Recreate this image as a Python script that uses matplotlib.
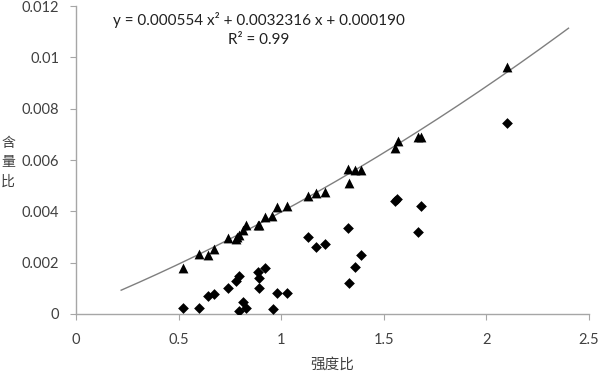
import matplotlib
matplotlib.use('Agg')
import matplotlib.pyplot as plt
import numpy as np

plt.rcParams['font.family'] = ['Lato', 'Noto Sans CJK SC', 'DejaVu Sans']

# 三角形：含量比（上方序列）
tri_x = [0.523, 0.601, 0.645, 0.674, 0.742, 0.778, 0.786, 0.794, 0.815, 0.828,
         0.885, 0.893, 0.921, 0.957, 0.981, 1.027, 1.132, 1.170, 1.213, 1.327,
         1.330, 1.360, 1.387, 1.555, 1.568, 1.668, 1.680, 2.099]
tri_y = [0.00178, 0.00234, 0.00230, 0.00252, 0.00297, 0.00293, 0.00301, 0.00308, 0.00327, 0.00345,
         0.00347, 0.00347, 0.00377, 0.00382, 0.00416, 0.00422, 0.00461, 0.00470, 0.00477, 0.00564,
         0.00512, 0.00561, 0.00561, 0.00648, 0.00675, 0.00688, 0.00688, 0.00963]

# 菱形：下方序列
dia_x = [0.523, 0.601, 0.645, 0.674, 0.742, 0.778, 0.794, 0.794, 0.815, 0.828,
         0.888, 0.893, 0.893, 0.921, 0.958, 0.981, 1.027, 1.132, 1.170, 1.213,
         1.327, 1.330, 1.360, 1.387, 1.555, 1.566, 1.668, 1.681, 2.099]
dia_y = [0.00025, 0.00025, 0.00071, 0.00079, 0.00103, 0.00130, 0.00148, 0.00013, 0.00047, 0.00025,
         0.00165, 0.00141, 0.00100, 0.00180, 0.00018, 0.00083, 0.00083, 0.00301, 0.00262, 0.00272,
         0.00336, 0.00120, 0.00184, 0.00230, 0.00440, 0.00448, 0.00318, 0.00421, 0.00745]

# 趋势线系数（图中公式）
coef = [0.000554, 0.0032316, 0.000190]
fit_range = (0.22, 2.4)

x_ticks = [0, 0.5, 1, 1.5, 2, 2.5]
x_labels = ['0', '0.5', '1', '1.5', '2', '2.5']
y_ticks = [0, 0.002, 0.004, 0.006, 0.008, 0.01, 0.012]
y_labels = ['0', '0.002', '0.004', '0.006', '0.008', '0.01', '0.012']

fig = plt.figure(figsize=(6, 3.76), dpi=100)
ax = fig.add_axes([0.1267, 0.1649, 0.855, 0.819])

xs = np.linspace(fit_range[0], fit_range[1], 200)
ax.plot(xs, np.polyval(coef, xs), color='#7f7f7f', lw=1.0, zorder=2)
ax.scatter(tri_x, tri_y, marker='^', s=50, color='black', zorder=3, linewidths=0)
ax.scatter(dia_x, dia_y, marker='D', s=30, color='black', zorder=3, linewidths=0)

ax.set_xlim(0, 2.5)
ax.set_ylim(0, 0.012)
ax.set_xticks(x_ticks)
ax.set_xticklabels(x_labels)
ax.set_yticks(y_ticks)
ax.set_yticklabels(y_labels)

for s in ['top', 'right']:
    ax.spines[s].set_visible(False)
for s in ['left', 'bottom']:
    ax.spines[s].set_color('#a6a6a6')
    ax.spines[s].set_linewidth(1.0)
ax.tick_params(axis='both', colors='#a6a6a6', labelcolor='#404040', labelsize=10.5,
               length=4, direction='out')
ax.tick_params(axis='x', pad=10)
ax.tick_params(axis='y', pad=8)

fig.text(332 / 600, 1 - 365 / 376, '强度比', ha='center', va='center', fontsize=10.5, color='#404040')
# 纵轴标题逐字竖排
for i, ch in enumerate('含量比'):
    fig.text(8 / 600, 1 - (143 + 19 * i) / 376, ch, ha='center', va='center',
             fontsize=10, color='#404040')

fig.text(259 / 600, 1 - 20 / 376, 'y = 0.000554 x² + 0.0032316 x + 0.000190',
         ha='center', va='center', fontsize=11, color='#202020')
fig.text(259 / 600, 1 - 40 / 376, 'R² = 0.99',
         ha='center', va='center', fontsize=11, color='#202020')

fig.savefig('out.png', dpi=100)
